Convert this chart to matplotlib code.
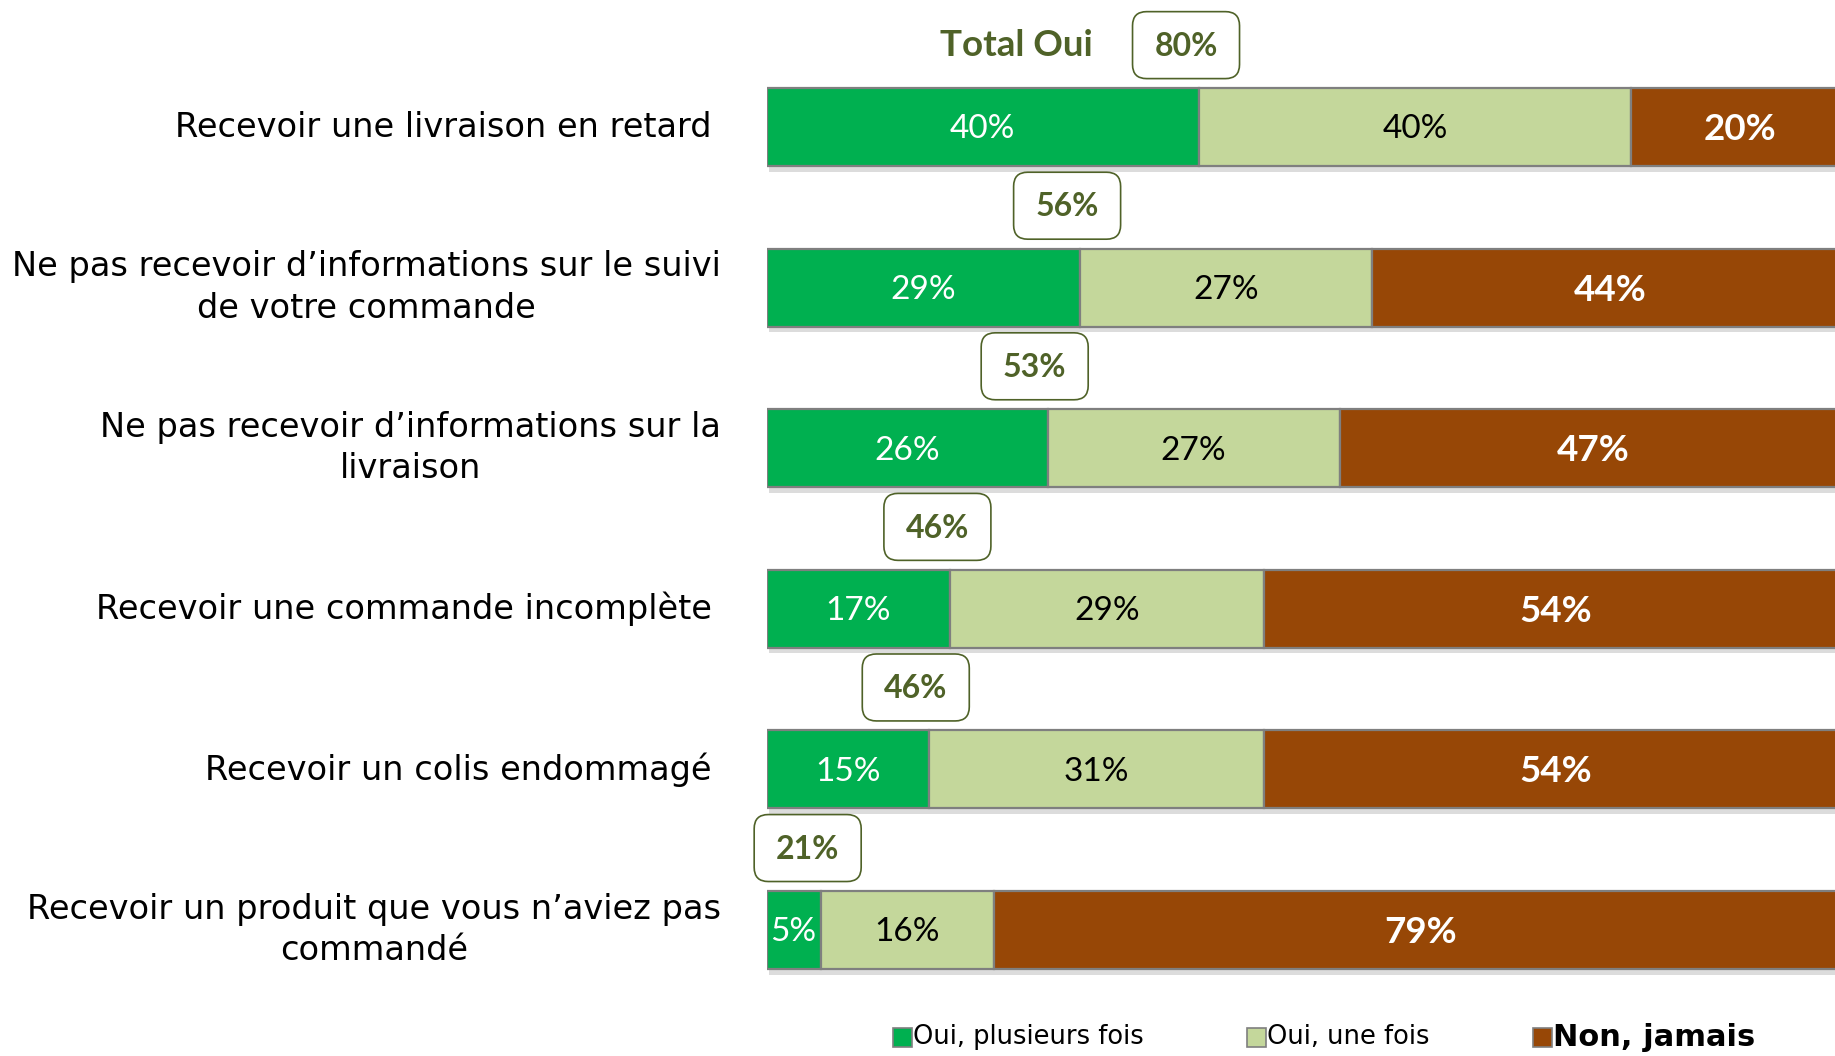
import matplotlib.pyplot as plt
import matplotlib.patheffects as pe
from matplotlib.patches import FancyBboxPatch, Rectangle
import numpy as np

# Données
categories = [
    "Recevoir une livraison en retard",
    "Ne pas recevoir d\u2019informations sur le suivi\nde votre commande",
    "Ne pas recevoir d\u2019informations sur la\nlivraison",
    "Recevoir une commande incompl\u00e8te",
    "Recevoir un colis endommag\u00e9",
    "Recevoir un produit que vous n\u2019aviez pas\ncommand\u00e9",
]
plusieurs_fois = [40, 29, 26, 17, 15, 5]
une_fois = [40, 27, 27, 29, 31, 16]
jamais = [20, 44, 47, 54, 54, 79]
total_oui = [80, 56, 53, 46, 46, 21]
series_names = ["Oui, plusieurs fois", "Oui, une fois", "Non, jamais"]
colors = ["#00B050", "#C4D79B", "#974706"]
olive = "#4F6228"

W, H = 1835, 1056
fig = plt.figure(figsize=(W / 100, H / 100), dpi=100)
x0 = 766.6
ax = fig.add_axes([x0 / W, 0, 1 - x0 / W, 1])
ax.set_xlim(0, (W - x0) / 10.81)
ax.set_ylim(5.785, -0.791)
ax.axis("off")

y = np.arange(len(categories))
series = [plusieurs_fois, une_fois, jamais]
shadow = [pe.SimplePatchShadow(offset=(1.5, -4), shadow_rgbFace="#8c8c8c", alpha=0.3), pe.Normal()]

left = np.zeros(len(categories))
for vals, c, k in zip(series, colors, range(3)):
    vals = np.array(vals)
    ax.barh(y, vals, left=left, height=0.486, color=c, edgecolor="#7f7f7f",
            linewidth=1.6, path_effects=shadow)
    for yi, l, v in zip(y, left, vals):
        if k == 0:
            ax.text(l + v / 2, yi + 0.015, f"{v}%", ha="center", va="center", color="white",
                    fontsize=24, family="Lato")
        elif k == 1:
            ax.text(l + v / 2, yi + 0.015, f"{v}%", ha="center", va="center", color="black",
                    fontsize=24, family="Lato")
        else:
            ax.text(l + v / 2, yi + 0.015, f"{v}%", ha="center", va="center", color="white",
                    fontsize=26.5, family="Lato", fontweight="bold")
    left += vals

# étiquettes des catégories (les libellés sur deux lignes débordent un peu plus à droite)
for yi, cat in zip(y, categories):
    lx = -4.2 if "\n" in cat else -5.1
    ax.text(lx, yi, cat, ha="right", va="center", multialignment="center",
            fontsize=24.2, family="DejaVu Sans", color="black", linespacing=1.32)

# boîtes "Total Oui"
bw, bh = 107 / 10.81, 67 / 160.7
for yi, g, t in zip(y, plusieurs_fois, total_oui):
    cx, cy = g - 1.2, yi - 0.51
    box = FancyBboxPatch((cx - bw / 2, cy - bh / 2), bw, bh,
                         boxstyle="round,pad=0,rounding_size=1.3",
                         mutation_aspect=10.81 / 160.7,
                         facecolor="white", edgecolor=olive, linewidth=1.2,
                         clip_on=False)
    ax.add_patch(box)
    ax.text(cx, cy + 0.008, f"{t}%", ha="center", va="center", color=olive,
            fontsize=23, family="Lato", fontweight="bold")

ax.text(plusieurs_fois[0] - 1.2 - 8.6, -0.51, "Total Oui", ha="right", va="center",
        color=olive, fontsize=26.5, family="Lato", fontweight="bold")

# légende
leg_x = [893, 1247, 1533]
ly = 1 - 1037 / H
for lx, name, c, k in zip(leg_x, series_names, colors, range(3)):
    sq = 19
    fig.add_artist(Rectangle((lx / W, ly - sq / 2 / H), sq / W, sq / H, transform=fig.transFigure,
                             facecolor=c, edgecolor="#7f7f7f", linewidth=1.2))
    if k < 2:
        fig.text((lx + 20) / W, ly, name, ha="left", va="center", fontsize=18.5,
                 family="DejaVu Sans")
    else:
        fig.text((lx + 20) / W, ly, name, ha="left", va="center", fontsize=22,
                 family="DejaVu Sans", fontweight="bold")

fig.savefig("out.png", dpi=100)
